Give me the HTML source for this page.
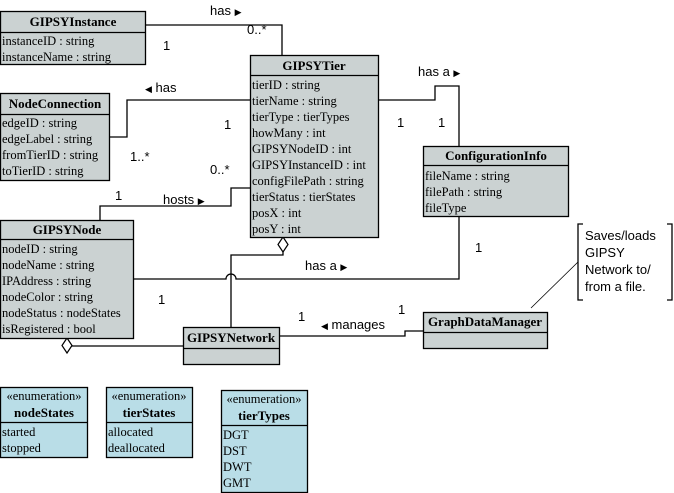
<!DOCTYPE html>
<html><head><meta charset="utf-8"><style>
html,body{margin:0;padding:0;background:#fff;width:674px;height:493px;overflow:hidden}
svg{display:block}
.s{font-family:"Liberation Serif",serif;font-size:12.5px;fill:#000}
.b{font-family:"Liberation Serif",serif;font-size:13px;font-weight:bold;fill:#000}
.l{font-family:"Liberation Sans",sans-serif;font-size:13px;fill:#000}
.t{font-size:9px}
.c{fill:#cbd2d2;stroke:#000;stroke-width:1.3}
.e{fill:#b9dde7;stroke:#000;stroke-width:1.3}
.ln{fill:none;stroke:#000;stroke-width:1.3}
</style></head><body>
<svg width="674" height="493" viewBox="0 0 674 493" xmlns="http://www.w3.org/2000/svg">
<polyline class="ln" points="145,25 282,25 282,56"/>
<polyline class="ln" points="109,137 127,137 127,100 250,100"/>
<polyline class="ln" points="100,220 100,206 231,206 231,188 250,188"/>
<polyline class="ln" points="378,100 435,100 435,86 459,86 459,146"/>
<path class="ln" d="M459,216 V279 H236 A5,5 0 0 0 226,279 H134"/>
<polyline class="ln" points="283,252 283,255 231,255 231,327"/>
<polygon points="283,237 288,244.5 283,252 278,244.5" fill="#fff" stroke="#000" stroke-width="1.2"/>
<polyline class="ln" points="67,346 183,346"/>
<polygon points="67,338 72,345.5 67,353 62,345.5" fill="#fff" stroke="#000" stroke-width="1.2"/>
<polyline class="ln" points="279,336 405,336 405,331 423,331"/>
<line x1="531" y1="308" x2="578" y2="262" stroke="#000" stroke-width="0.8"/>
<polyline class="ln" points="583,224 578,224 578,300 583,300"/>
<polyline class="ln" points="667,224 672,224 672,300 667,300"/>
<text class="l" x="585" y="240">Saves/loads</text>
<text class="l" x="585" y="257">GIPSY</text>
<text class="l" x="585" y="274">Network to/</text>
<text class="l" x="585" y="291">from a file.</text>
<text class="l" x="210" y="15">has <tspan class="t">▶</tspan></text>
<text class="l" x="247" y="34">0..*</text>
<text class="l" x="163" y="50">1</text>
<text class="l" x="145" y="92"><tspan class="t">◀</tspan> has</text>
<text class="l" x="224" y="129">1</text>
<text class="l" x="130" y="161">1..*</text>
<text class="l" x="210" y="174">0..*</text>
<text class="l" x="115" y="200">1</text>
<text class="l" x="163" y="204">hosts <tspan class="t">▶</tspan></text>
<text class="l" x="418" y="76">has a <tspan class="t">▶</tspan></text>
<text class="l" x="397" y="127">1</text>
<text class="l" x="438" y="127">1</text>
<text class="l" x="305" y="270">has a <tspan class="t">▶</tspan></text>
<text class="l" x="475" y="252">1</text>
<text class="l" x="158" y="304">1</text>
<text class="l" x="298" y="321">1</text>
<text class="l" x="321" y="329"><tspan class="t">◀</tspan> manages</text>
<text class="l" x="398" y="314">1</text>
<rect class="c" x="0.5" y="11.5" width="145" height="53"/>
<line class="ln" x1="0" y1="32.5" x2="145" y2="32.5"/>
<text class="b" x="73" y="26" text-anchor="middle">GIPSYInstance</text>
<text class="s" x="2" y="45">instanceID : string</text>
<text class="s" x="2" y="61">instanceName : string</text>
<rect class="c" x="250.5" y="55.5" width="128" height="182"/>
<line class="ln" x1="250" y1="75.5" x2="378" y2="75.5"/>
<text class="b" x="314" y="70" text-anchor="middle">GIPSYTier</text>
<text class="s" x="252" y="89">tierID : string</text>
<text class="s" x="252" y="105">tierName : string</text>
<text class="s" x="252" y="121">tierType : tierTypes</text>
<text class="s" x="252" y="137">howMany : int</text>
<text class="s" x="252" y="153">GIPSYNodeID : int</text>
<text class="s" x="252" y="169">GIPSYInstanceID : int</text>
<text class="s" x="252" y="185">configFilePath : string</text>
<text class="s" x="252" y="201">tierStatus : tierStates</text>
<text class="s" x="252" y="217">posX : int</text>
<text class="s" x="252" y="233">posY : int</text>
<rect class="c" x="0.5" y="93.5" width="109" height="87"/>
<line class="ln" x1="0" y1="114.5" x2="109" y2="114.5"/>
<text class="b" x="55" y="108" text-anchor="middle">NodeConnection</text>
<text class="s" x="2" y="127">edgeID : string</text>
<text class="s" x="2" y="143">edgeLabel : string</text>
<text class="s" x="2" y="159">fromTierID : string</text>
<text class="s" x="2" y="175">toTierID : string</text>
<rect class="c" x="0.5" y="220.5" width="133" height="118"/>
<line class="ln" x1="0" y1="239.5" x2="133" y2="239.5"/>
<text class="b" x="67" y="234" text-anchor="middle">GIPSYNode</text>
<text class="s" x="2" y="253">nodeID : string</text>
<text class="s" x="2" y="269">nodeName : string</text>
<text class="s" x="2" y="285">IPAddress : string</text>
<text class="s" x="2" y="301">nodeColor : string</text>
<text class="s" x="2" y="317">nodeStatus : nodeStates</text>
<text class="s" x="2" y="333">isRegistered : bool</text>
<rect class="c" x="423.5" y="146.5" width="145" height="70"/>
<line class="ln" x1="423" y1="165.5" x2="568" y2="165.5"/>
<text class="b" x="496" y="160" text-anchor="middle">ConfigurationInfo</text>
<text class="s" x="425" y="180">fileName : string</text>
<text class="s" x="425" y="196">filePath : string</text>
<text class="s" x="425" y="212">fileType</text>
<rect class="c" x="183.5" y="327.5" width="96" height="37"/>
<line class="ln" x1="183" y1="348.5" x2="279" y2="348.5"/>
<text class="b" x="231" y="342" text-anchor="middle">GIPSYNetwork</text>
<rect class="c" x="423.5" y="312.5" width="124" height="36"/>
<line class="ln" x1="423" y1="332.5" x2="547" y2="332.5"/>
<text class="b" x="485" y="326" text-anchor="middle">GraphDataManager</text>
<rect class="e" x="0.5" y="387.5" width="87" height="70"/>
<line class="ln" x1="0" y1="422.5" x2="87" y2="422.5"/>
<text class="s" x="44" y="400" text-anchor="middle">«enumeration»</text>
<text class="b" x="44" y="417" text-anchor="middle">nodeStates</text>
<text class="s" x="2" y="436">started</text>
<text class="s" x="2" y="452">stopped</text>
<rect class="e" x="106.5" y="387.5" width="86" height="70"/>
<line class="ln" x1="106" y1="422.5" x2="192" y2="422.5"/>
<text class="s" x="149" y="400" text-anchor="middle">«enumeration»</text>
<text class="b" x="149" y="417" text-anchor="middle">tierStates</text>
<text class="s" x="108" y="436">allocated</text>
<text class="s" x="108" y="452">deallocated</text>
<rect class="e" x="221.5" y="390.5" width="86" height="102"/>
<line class="ln" x1="221" y1="425.5" x2="307" y2="425.5"/>
<text class="s" x="264" y="403" text-anchor="middle">«enumeration»</text>
<text class="b" x="264" y="420" text-anchor="middle">tierTypes</text>
<text class="s" x="223" y="439">DGT</text>
<text class="s" x="223" y="455">DST</text>
<text class="s" x="223" y="471">DWT</text>
<text class="s" x="223" y="487">GMT</text>
</svg>
</body></html>
